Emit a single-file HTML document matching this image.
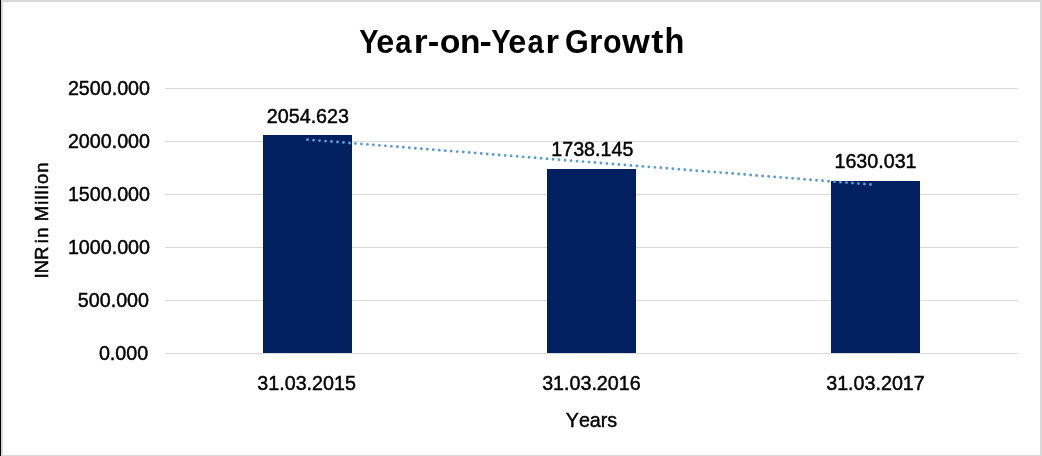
<!DOCTYPE html>
<html><head><meta charset="utf-8">
<style>
html,body{margin:0;padding:0;background:#fff;}
body{width:1042px;height:456px;overflow:hidden;position:relative;}
svg{display:block;position:absolute;left:0;top:0;will-change:transform;}
text{font-family:"Liberation Sans",sans-serif;fill:#000;font-kerning:none;}
.lab{font-size:19.7px;stroke:#000;stroke-width:0.45px;stroke-linejoin:round;}
</style></head><body>
<svg width="1042" height="456" viewBox="0 0 1042 456">

<!-- borders -->
<rect x="0" y="0" width="1042" height="2" fill="#d9d9d9"/>
<rect x="1040" y="0" width="2" height="456" fill="#d9d9d9"/>
<rect x="0" y="455" width="1042" height="1" fill="#d9d9d9"/>
<rect x="1" y="0" width="2" height="456" fill="#d9d9d9"/>
<rect x="0" y="0" width="1" height="456" fill="#000"/>
<!-- gridlines -->
<g fill="#d9d9d9">
<rect x="165" y="88" width="853" height="1"/>
<rect x="165" y="141" width="853" height="1"/>
<rect x="165" y="194" width="853" height="1"/>
<rect x="165" y="247" width="853" height="1"/>
<rect x="165" y="300" width="853" height="1"/>
<rect x="165" y="353" width="853" height="1"/>
</g>
<!-- bars -->
<g fill="#002060">
<rect x="263" y="135" width="89" height="218"/>
<rect x="547" y="169" width="89" height="184"/>
<rect x="831" y="181" width="89" height="172"/>
</g>
<!-- trendline -->
<line x1="307.55" y1="139.65" x2="873.15" y2="184.75" stroke="#5b9bd5" stroke-width="2.9" stroke-linecap="round" stroke-dasharray="0 6.007"/>
<!-- title -->
<g id="title" font-size="34" font-weight="bold">
<text transform="translate(359.20,53) scale(0.854,1)">Y</text>
<text transform="translate(376.24,53) scale(0.950,1)">e</text>
<text transform="translate(395.30,53) scale(0.860,1)">a</text>
<text transform="translate(413.75,53) scale(1.050,1)">r</text>
<text transform="translate(427.85,53) scale(1.019,1)">-</text>
<text transform="translate(439.77,53) scale(0.999,1)">o</text>
<text transform="translate(460.09,53) scale(0.987,1)">n</text>
<text transform="translate(479.55,53) scale(1.089,1)">-</text>
<text transform="translate(491.30,53) scale(0.854,1)">Y</text>
<text transform="translate(508.34,53) scale(0.950,1)">e</text>
<text transform="translate(527.40,53) scale(0.860,1)">a</text>
<text transform="translate(545.61,53) scale(1.021,1)">r</text>
<text transform="translate(564.95,53) scale(0.898,1)">G</text>
<text transform="translate(588.93,53) scale(1.012,1)">r</text>
<text transform="translate(603.11,53) scale(0.894,1)">o</text>
<text transform="translate(621.90,53) scale(1.052,1)">w</text>
<text transform="translate(651.26,53) scale(1.067,1)">t</text>
<text transform="translate(664.43,53) scale(0.958,1.05)">h</text>
</g>
<!-- y labels -->
<g class="lab" text-anchor="end">
<text x="150" y="95">2500.000</text>
<text x="150" y="148">2000.000</text>
<text x="150" y="201">1500.000</text>
<text x="150" y="254">1000.000</text>
<text x="149" y="307">500.000</text>
<text x="148.2" y="360">0.000</text>
</g>
<!-- data labels -->
<g class="lab" text-anchor="middle">
<text x="307.9" y="122.9">2054.623</text>
<text x="592.3" y="155.9">1738.145</text>
<text x="875.5" y="167.8">1630.031</text>
<text x="306.6" y="389.9">31.03.2015</text>
<text x="591.4" y="389.9">31.03.2016</text>
<text x="875.5" y="389.9">31.03.2017</text>
<text x="591.5" y="426.8">Years</text>
</g>
<g id="ytitle" transform="translate(48.2,277.1) rotate(-90)" font-size="18.5" stroke="#000" stroke-width="0.5">
<text x="-1.4" y="0">INR</text>
<text x="33.8" y="0" letter-spacing="1.5">in</text>
<text x="55.9" y="0" letter-spacing="1.05">Million</text>
</g>
</svg>
</body></html>
